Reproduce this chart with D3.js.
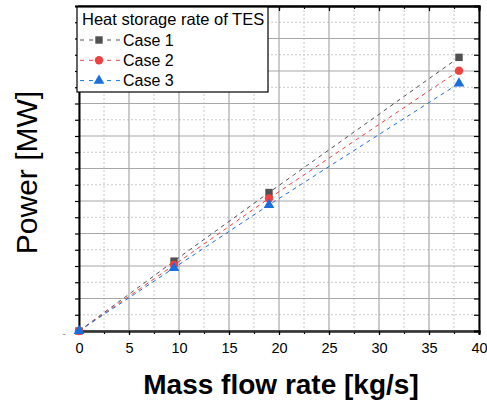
<!DOCTYPE html>
<html>
<head>
<meta charset="utf-8">
<script src="https://cdn.jsdelivr.net/npm/d3@7"></script>
<style>
  body { margin: 0; background: #fff; }
  text { font-family: "Liberation Sans", Arial, sans-serif; }
</style>
</head>
<body>
<div id="chart"></div>
<script>
// data
var flowRates = [0, 9.5, 19, 38];
var case1 = [0, 2.15, 4.26, 8.42];
var case2 = [0, 2.03, 4.08, 8.01];
var case3 = [0, 1.94, 3.88, 7.62];
var seriesNames = ["Case 1", "Case 2", "Case 3"];
var xTicks = [0, 5, 10, 15, 20, 25, 30, 35, 40];
var legendTitle = "Heat storage rate of TES";

var colors = ["#515151", "#F14040", "#1A6FDF"];
var shapes = [d3.symbolSquare, d3.symbolCircle, d3.symbolTriangle];
var series = [case1, case2, case3];

var margin = {top: 6, right: 8, bottom: 70, left: 79},
    W = 487, H = 401,
    width = W - margin.left - margin.right,
    height = H - margin.top - margin.bottom;

var svg = d3.select("#chart").append("svg")
  .attr("width", W).attr("height", H);
var g = svg.append("g")
  .attr("transform", "translate(" + margin.left + "," + margin.top + ")");

var x = d3.scaleLinear().domain([0, 40]).range([0, width]);
var y = d3.scaleLinear().domain([0, 10]).range([height, 0]);

var xMinor = d3.range(0, 40.01, 2.5);
var yMinor = d3.range(0, 10.01, 0.5);

// grid: minor dotted, major solid
g.append("g").selectAll("line.vmin")
  .data(xMinor.filter(function(d) { return d % 5 != 0; }))
  .enter().append("line")
  .attr("x1", d => x(d)).attr("x2", d => x(d))
  .attr("y1", 0).attr("y2", height)
  .attr("stroke", "#c8c8c8").attr("stroke-width", 1)
  .attr("stroke-dasharray", "2,2");
g.append("g").selectAll("line.hmin")
  .data(yMinor.filter(function(d) { return d % 1 != 0; }))
  .enter().append("line")
  .attr("x1", 0).attr("x2", width)
  .attr("y1", d => y(d)).attr("y2", d => y(d))
  .attr("stroke", "#c8c8c8").attr("stroke-width", 1)
  .attr("stroke-dasharray", "2,2");
g.append("g").selectAll("line.vmaj")
  .data(xTicks)
  .enter().append("line")
  .attr("x1", d => x(d)).attr("x2", d => x(d))
  .attr("y1", 0).attr("y2", height)
  .attr("stroke", "#a8a8a8").attr("stroke-width", 1.2);
g.append("g").selectAll("line.hmaj")
  .data(d3.range(0, 10.01, 1))
  .enter().append("line")
  .attr("x1", 0).attr("x2", width)
  .attr("y1", d => y(d)).attr("y2", d => y(d))
  .attr("stroke", "#a8a8a8").attr("stroke-width", 1.2);

// axes
var bottomMinor = g.append("g")
  .attr("transform", "translate(0," + height + ")")
  .call(d3.axisBottom(x).tickValues(xMinor).tickSize(3).tickFormat(""));
var bottomAxis = g.append("g")
  .attr("transform", "translate(0," + height + ")")
  .call(d3.axisBottom(x).tickValues(xTicks).tickSize(4).tickPadding(8));
bottomAxis.selectAll("text")
  .style("font-family", "Liberation Sans, Arial, sans-serif")
  .style("font-size", "14.5px").attr("fill", "#000");

var leftAxis = g.append("g")
  .call(d3.axisLeft(y).tickValues(yMinor).tickSize(4).tickFormat(""));

var topAxis = g.append("g")
  .call(d3.axisTop(x).tickValues(xTicks).tickSize(-5).tickFormat(""));
var topMinor = g.append("g")
  .call(d3.axisTop(x).tickValues(xMinor).tickSize(-3).tickFormat(""));
var rightAxis = g.append("g")
  .attr("transform", "translate(" + width + ",0)")
  .call(d3.axisRight(y).tickValues(yMinor).tickSize(-5).tickFormat(""));

[bottomMinor, bottomAxis, leftAxis, topAxis, topMinor, rightAxis].forEach(function(a) {
  a.select(".domain").attr("stroke", "#000").attr("stroke-width", 2);
  a.selectAll(".tick line").attr("stroke", "#000").attr("stroke-width", 1.2);
});
bottomAxis.select(".domain").attr("stroke", "#333");

// stray dash at lower left
g.append("text")
  .attr("x", -15).attr("y", height + 6)
  .attr("text-anchor", "middle")
  .attr("fill", "#999").style("font-size", "11px")
  .text("-");

// series lines and markers
var line = d3.line()
  .x(function(d, i) { return x(flowRates[i]); })
  .y(function(d) { return y(d); });

series.forEach(function(s, k) {
  g.append("path")
    .datum(s)
    .attr("fill", "none")
    .attr("stroke", colors[k])
    .attr("stroke-width", 1)
    .attr("stroke-dasharray", "4,4")
    .attr("d", line);
});
series.forEach(function(s, k) {
  g.append("g").selectAll("path")
    .data(s)
    .enter().append("path")
    .attr("transform", function(d, i) {
      return "translate(" + x(flowRates[i]) + "," + y(d) + ")";
    })
    .attr("d", d3.symbol().type(shapes[k]).size(k == 2 ? 50 : 55))
    .attr("fill", colors[k]);
});

// legend
var leg = svg.append("g").attr("transform", "translate(77,7)");
leg.append("rect")
  .attr("width", 191).attr("height", 85)
  .attr("fill", "#fff").attr("stroke", "#000").attr("stroke-width", 1.2);
leg.append("text")
  .attr("x", 5).attr("y", 18)
  .style("font-size", "16.5px")
  .text(legendTitle);
seriesNames.forEach(function(name, k) {
  var yy = 33 + k * 20.3;
  leg.append("line")
    .attr("x1", 3).attr("x2", 43)
    .attr("y1", yy).attr("y2", yy)
    .attr("stroke", colors[k]).attr("stroke-width", 1)
    .attr("stroke-dasharray", "4,5");
  leg.append("path")
    .attr("transform", "translate(22," + yy + ")")
    .attr("d", d3.symbol().type(shapes[k]).size(k == 2 ? 50 : 55))
    .attr("fill", colors[k]);
  leg.append("text")
    .attr("x", 46).attr("y", yy + 5.5)
    .style("font-size", "16px")
    .text(name);
});

// axis titles
svg.append("text")
  .attr("x", margin.left + width / 2 + 2)
  .attr("y", 394)
  .attr("text-anchor", "middle")
  .style("font-size", "28px").style("font-weight", "bold")
  .text("Mass flow rate [kg/s]");
svg.append("text")
  .attr("transform", "translate(37," + (margin.top + height / 2 + 4) + ") rotate(-90)")
  .attr("text-anchor", "middle")
  .style("font-size", "30px")
  .text("Power [MW]");
</script>
</body>
</html>
